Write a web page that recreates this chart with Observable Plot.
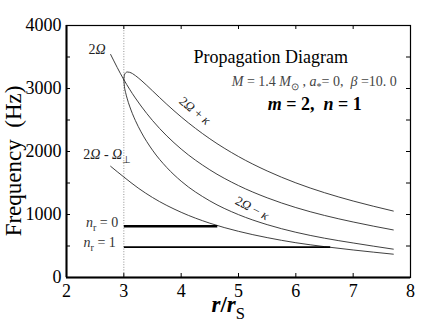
<!DOCTYPE html>
<html><head><meta charset="utf-8">
<script src="https://cdn.jsdelivr.net/npm/d3@7"></script>
<script src="https://cdn.jsdelivr.net/npm/@observablehq/plot@0.6"></script>
<style>
html,body{margin:0;padding:0;background:#fff;}
#chart svg{display:block;}
#chart svg text{font-family:"Liberation Serif","Times New Roman",serif;}
</style></head><body><div id="chart"></div>
<script>
// ---- data ----
const xTicks = [2, 3, 4, 5, 6, 7, 8];
const yTicks = [0, 1000, 2000, 3000, 4000];
const yMinorTicks = [500, 1500, 2500, 3500];
const rKepler = [2.77, 3, 3.05, 3.1, 3.2, 3.3, 3.5, 3.75, 4, 4.5, 5, 5.5, 6, 6.5, 7, 7.7];
const twoOmega = [3540, 3140, 3063, 2989, 2850, 2722, 2492, 2247, 2039, 1709, 1459, 1265, 1110, 985, 881, 755];
const rEpi = [3, 3.01, 3.03, 3.06, 3.1, 3.15, 3.2, 3.3, 3.5, 3.75, 4, 4.5, 5, 5.5, 6, 6.5, 7, 7.7];
const twoOmegaPlusKappa = [3140, 3214, 3247, 3262, 3257, 3237, 3206, 3132, 2963, 2749, 2549, 2202, 1920, 1691, 1502, 1346, 1214, 1055];
const twoOmegaMinusKappa = [3140, 3034, 2939, 2835, 2721, 2600, 2494, 2312, 2021, 1745, 1529, 1216, 998, 839, 718, 624, 548, 450];
const rVert = [2.77, 3, 3.25, 3.5, 4, 4.5, 5, 5.5, 6, 6.5, 7, 7.7];
const twoOmegaMinusOmegaPerp = [1765, 1595, 1420, 1270, 1035, 862, 733, 633, 552, 490, 437, 370];
const modeLabels = ["0", "1"];
const modeFreq = [814, 481];
const modeRStart = [3, 3];
const modeREnd = [4.63, 6.6];
const iscoR = [3];
// annotation anchors (data space)
const curveLabelR = [2.54, 2.72, 4.2, 5.21];
const curveLabelF = [3540, 1873, 2587, 1032];
const modeLabelR = [2.91, 2.87];
const modeLabelF = [794, 476];
const titleText = "Propagation Diagram";
const titleR = 5.57, titleF = 3397;
const paramR = 6.33, paramF = 3032;
const modeNR = 6.34, modeNF = 2651;

// ---- build tables ----
const curves = [
  {r: rKepler, f: twoOmega},
  {r: rEpi, f: twoOmegaPlusKappa},
  {r: rEpi, f: twoOmegaMinusKappa},
  {r: rVert, f: twoOmegaMinusOmegaPerp}
].flatMap((s, k) => s.r.map((r, j) => ({r, f: s.f[j], k})));
const modes = modeLabels.map((n, i) => ({n, f: modeFreq[i], r1: modeRStart[i], r2: modeREnd[i]}));

const W = 436, H = 327, mL = 66, mR = 26, mT = 25, mB = 50;
const pw = W - mL - mR, ph = H - mT - mB;
const FONT = "'Liberation Serif', 'Times New Roman', serif";

const plot = Plot.plot({
  width: W, height: H,
  marginLeft: mL, marginRight: mR, marginTop: mT, marginBottom: mB,
  style: {fontFamily: FONT, fontSize: "18px", color: "#000", background: "#fff"},
  x: {domain: [2, 8]},
  y: {domain: [0, 4000]},
  marks: [
    Plot.ruleX(iscoR, {stroke: "#777", strokeWidth: 0.8, strokeDasharray: "1,1.6"}),
    Plot.line(curves, {x: "r", y: "f", z: "k", curve: "monotone-x", stroke: "#2a2a2a", strokeWidth: 0.9}),
    Plot.link(modes.slice(0, 1), {x1: "r1", x2: "r2", y1: "f", y2: "f", stroke: "#000", strokeWidth: 2.6}),
    Plot.link(modes.slice(1), {x1: "r1", x2: "r2", y1: "f", y2: "f", stroke: "#000", strokeWidth: 1.8}),
    Plot.tickX(xTicks.slice(1, -1), {x: d => d, insetTop: ph - 4, stroke: "#000", strokeWidth: 1}),
    Plot.tickX(xTicks.slice(1, -1), {x: d => d, insetBottom: ph - 4, stroke: "#000", strokeWidth: 1}),
    Plot.tickY(yTicks.concat(yMinorTicks), {y: d => d, insetRight: pw - 4, stroke: "#000", strokeWidth: 1}),
    Plot.tickY(yTicks.concat(yMinorTicks), {y: d => d, insetLeft: pw - 4, stroke: "#000", strokeWidth: 1}),
    Plot.frame({stroke: "#000", strokeWidth: 1.2}),
    Plot.ruleX([2], {stroke: "#000", strokeWidth: 2}),
    Plot.ruleY([0], {stroke: "#000", strokeWidth: 2}),
    Plot.axisX({ticks: xTicks, tickSize: 0, tickPadding: 7, label: null, tickFormat: d3.format("d"), fontSize: 18}),
    Plot.axisY({ticks: yTicks, tickSize: 0, tickPadding: 5, label: null, tickFormat: d3.format("d"), fontSize: 18})
  ]
});
document.getElementById("chart").appendChild(plot);

// ---- rich text annotations ----
const svg = d3.select(plot);
const xs = plot.scale("x"), ys = plot.scale("y");
function addText(x, y, parts, o = {}) {
  const fs = o.size || 14;
  const t = svg.append("text").attr("x", x).attr("y", y)
    .style("font-family", FONT).attr("font-size", fs)
    .attr("text-anchor", o.anchor || "start")
    .attr("font-style", o.italic ? "italic" : "normal")
    .attr("font-weight", o.bold ? "bold" : "normal")
    .attr("fill", o.fill || "#000");
  if (o.rotate) t.attr("transform", `rotate(${o.rotate},${x},${y})`);
  let shift = 0;
  for (const p of parts) {
    const s = t.append("tspan").text(p.t);
    const target = p.sub ? fs * 0.3 : 0;
    if (target !== shift) { s.attr("dy", target - shift); shift = target; }
    if (p.sub) s.attr("font-size", fs * 0.72);
    if (p.italic !== undefined) s.attr("font-style", p.italic ? "italic" : "normal");
    if (p.bold !== undefined) s.attr("font-weight", p.bold ? "bold" : "normal");
  }
  return t;
}
const P = (i, arrR, arrF) => [xs.apply(arrR[i]), ys.apply(arrF[i])];

// curve labels
let [lx, ly] = P(0, curveLabelR, curveLabelF);
addText(lx, ly, [{t: "2"}, {t: "Ω", italic: true}], {anchor: "middle", size: 14, fill: "#222"});
[lx, ly] = P(1, curveLabelR, curveLabelF);
addText(lx, ly, [{t: "2"}, {t: "Ω", italic: true}, {t: " - "}, {t: "Ω", italic: true}, {t: "⊥", sub: true}], {anchor: "middle", size: 14, fill: "#222"});
[lx, ly] = P(2, curveLabelR, curveLabelF);
addText(lx, ly, [{t: "2"}, {t: "Ω", italic: true}, {t: " + "}, {t: "κ", italic: true}], {anchor: "middle", size: 13, rotate: 40, fill: "#222"});
[lx, ly] = P(3, curveLabelR, curveLabelF);
addText(lx, ly, [{t: "2"}, {t: "Ω", italic: true}, {t: " − "}, {t: "κ", italic: true}], {anchor: "middle", size: 13, rotate: 28, fill: "#222"});

// mode labels
modeLabels.forEach((n, i) => {
  const [mx, my] = P(i, modeLabelR, modeLabelF);
  addText(mx, my, [{t: "n", italic: true}, {t: "r", sub: true}, {t: " = " + n}], {anchor: "end", size: 14, fill: "#333"});
});

// title block
addText(xs.apply(titleR), ys.apply(titleF), [{t: titleText}], {anchor: "middle", size: 18});
addText(xs.apply(paramR), ys.apply(paramF), [
  {t: "M", italic: true}, {t: " = 1.4 "}, {t: "M", italic: true}, {t: "⊙", sub: true},
  {t: " , "}, {t: "a", italic: true}, {t: "*", sub: true}, {t: "= 0,  "}, {t: "β", italic: true}, {t: " =10. 0"}
], {anchor: "middle", size: 14, fill: "#444"});
addText(xs.apply(modeNR), ys.apply(modeNF), [
  {t: "m", italic: true}, {t: " = 2,  "}, {t: "n", italic: true}, {t: " = 1"}
], {anchor: "middle", size: 18, bold: true});

// axis titles
addText(xs.apply(4.83), H - 15, [{t: "r", italic: true}, {t: "/"}, {t: "r", italic: true}, {t: "S", sub: true, bold: false}], {anchor: "middle", size: 23, bold: true});
addText(21, 161, [{t: "Frequency  (Hz)"}], {anchor: "middle", size: 23, rotate: -90});
</script></body></html>
